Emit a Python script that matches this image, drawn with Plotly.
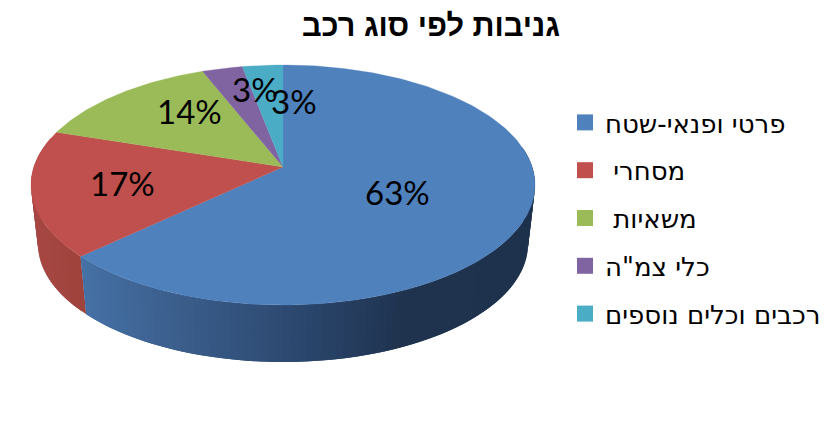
import math
import plotly.graph_objects as go

TITLE = "גניבות לפי סוג רכב"
categories = ["פרטי ופנאי-שטח", "מסחרי\u00a0\u200f", "משאיות\u00a0\u200f", "כלי צמ\"ה", "רכבים וכלים נוספים"]
values = [63, 17, 14, 3, 3]
colors = ["#4F81BD", "#C0504D", "#9BBB59", "#8064A2", "#4BACC6"]
label_nudges = [(-3, 1), (-37, 3), (-7, -18), (4, -25), (22, -12)]

# side shading: x pixel -> rgb
side_stops = [
    [(82, (70, 114, 167)), (200, (56, 90, 134)), (300, (43, 71, 110)), (400, (31, 51, 79)), (540, (30, 50, 77))],
    [(30, (168, 72, 68)), (90, (158, 66, 60))],
]

CX = 283
K = 0.15
TOP = dict(cy=185, rx=252, ry=120)
BOT = dict(cy=244, rx=245, ry=118)


def project(t, r, e):
    u, v = r * math.sin(t), r * math.cos(t)
    c = K * e["ry"]
    a = e["rx"] * math.sqrt(1 - K * K)
    w = 1 + K * v
    return CX + a * u / w, e["cy"] - (e["ry"] * v + c) / w


def shade(stops, x):
    if x <= stops[0][0]:
        return stops[0][1]
    for (x0, c0), (x1, c1) in zip(stops, stops[1:]):
        if x <= x1:
            f = (x - x0) / (x1 - x0)
            return tuple(round(a + (b - a) * f) for a, b in zip(c0, c1))
    return stops[-1][1]


total = sum(values)
edges = [0]
for val in values:
    edges.append(edges[-1] + val / total * 2 * math.pi)

fig = go.Figure()

# side wall (only the two front slices are visible); each quad reaches back to
# the wall's end so that the next one is painted over it without a seam
spans = [(edges[1], math.radians(285), 1), (math.radians(80), edges[1], 0)]
for a0, a1, idx in spans:
    n = max(2, int(math.degrees(a1 - a0) / 1.5))
    for i in range(n):
        t0 = a0 + (a1 - a0) * i / n
        t1 = a0 + (a1 - a0) * (i + 1) / n
        t2 = min(a1, t1 + (a1 - a0) / n)
        p = [project(t0, 1, TOP), project(t2, 1, TOP), project(t2, 1, BOT), project(t0, 1, BOT)]
        xm = (project(t0, 1, BOT)[0] + project(t1, 1, BOT)[0]) / 2
        col = "rgb(%d,%d,%d)" % shade(side_stops[idx], xm)
        fig.add_trace(go.Scatter(
            x=[q[0] for q in p] + [p[0][0]], y=[q[1] for q in p] + [p[0][1]],
            mode="lines", fill="toself", fillcolor=col, line=dict(color=col, width=0),
            hoverinfo="skip", showlegend=False))

# top face
for i, col in enumerate(colors):
    n = max(4, int(math.degrees(edges[i + 1] - edges[i])))
    pts = [project(edges[i] + (edges[i + 1] - edges[i]) * j / n, 1, TOP) for j in range(n + 1)]
    apex = project(0, 0, TOP)
    pts = [apex] + pts + [apex]
    fig.add_trace(go.Scatter(
        x=[q[0] for q in pts], y=[q[1] for q in pts], mode="lines", fill="toself",
        fillcolor=col, line=dict(color=col, width=0.3), hoverinfo="skip", showlegend=False))

# legend entries
for i, (name, col) in enumerate(zip(categories, colors)):
    fig.add_trace(go.Scatter(
        x=[None], y=[None], mode="markers", name=name, legendgroup=str(i),
        marker=dict(symbol="square", size=16, color=col)))

# value labels
for i, val in enumerate(values):
    mid = (edges[i] + edges[i + 1]) / 2
    x, y = project(mid, 0.5, TOP)
    fig.add_annotation(x=x + label_nudges[i][0], y=y + label_nudges[i][1], text=f"{val}%",
                       showarrow=False, font=dict(family="Lato", size=33, color="#000"))

fig.update_layout(
    width=840, height=439, autosize=False,
    margin=dict(l=0, r=0, t=0, b=0),
    paper_bgcolor="white", plot_bgcolor="white",
    title=dict(text="<b>" + TITLE + "</b>", x=431 / 840, xanchor="center", y=1 - 25 / 439, yanchor="middle",
               font=dict(family="Liberation Sans", size=30.7, color="#000")),
    xaxis=dict(range=[0, 840], visible=False, fixedrange=True),
    yaxis=dict(range=[439, 0], visible=False, fixedrange=True),
    legend=dict(x=565 / 840, xanchor="left", y=1 - 99 / 439, yanchor="top", tracegroupgap=11,
                bgcolor="rgba(0,0,0,0)", font=dict(family="DejaVu Sans", size=26, color="#000"),
                itemclick=False, itemdoubleclick=False),
)

fig.write_html("out.html", config={"displayModeBar": False},
               post_script="document.body.style.margin='0';document.body.style.overflow='hidden';")
